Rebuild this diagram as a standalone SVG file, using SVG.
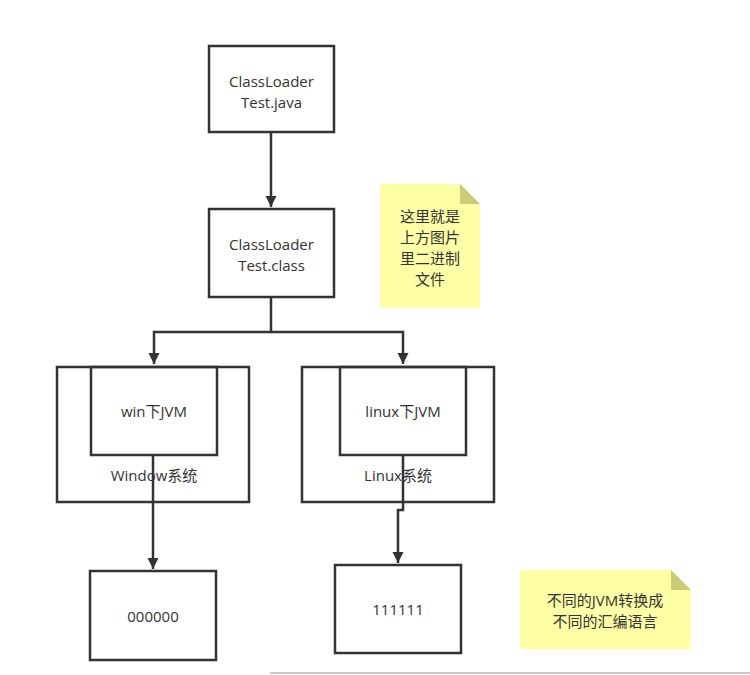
<svg xmlns="http://www.w3.org/2000/svg" width="750" height="675" viewBox="0 0 750 675">
<defs>
<style>
.box{fill:#fff;stroke:#333;stroke-width:2.5}
.frame{fill:none;stroke:#333;stroke-width:2.5}
.edge{fill:none;stroke:#333;stroke-width:2.5}
.t{font-family:"Open Sans","Noto Sans CJK SC",sans-serif;font-size:15px;fill:#333;text-anchor:middle;dominant-baseline:central}
.note{fill:#ffffa6;stroke:none}
.fold{fill:#cccc78}
</style>
<marker id="ah" viewBox="0 0 10 10" refX="10" refY="5" markerWidth="4.5" markerHeight="5.5" orient="auto" markerUnits="strokeWidth">
<path d="M0,0 L10,5 L0,10 Z" fill="#333"/>
</marker>
</defs>
<rect width="750" height="675" fill="#fff"/>
<line x1="270" y1="673" x2="750" y2="673" stroke="#ccc" stroke-width="2"/>
<g id="edges">
<path class="edge" d="M271,132 V207" marker-end="url(#ah)"/>
<path class="edge" d="M271,297 V332 H154 V364" marker-end="url(#ah)"/>
<path class="edge" d="M271,332 H403 V364" marker-end="url(#ah)"/>
<path class="edge" d="M153,455 V569" marker-end="url(#ah)"/>
<path class="edge" d="M403,455 V510 H398 V563" marker-end="url(#ah)"/>
</g>
<g id="java">
<rect class="box" x="209" y="46" width="125" height="86"/>
<text class="t" x="271.5" y="80.5">ClassLoader</text>
<text class="t" x="271.5" y="101.5">Test.java</text>
</g>
<g id="class">
<rect class="box" x="209" y="209" width="125" height="88"/>
<text class="t" x="271.5" y="243.5">ClassLoader</text>
<text class="t" x="271.5" y="264.5">Test.class</text>
</g>
<g id="note1">
<path class="note" d="M380,184 H460 L480,204 V308 H380 Z"/>
<path class="fold" d="M460,184 L480,204 H460 Z"/>
<text class="t" x="430" y="216">这里就是</text>
<text class="t" x="430" y="237">上方图片</text>
<text class="t" x="430" y="258">里二进制</text>
<text class="t" x="430" y="279">文件</text>
</g>
<g id="windows">
<rect class="frame" x="57" y="367" width="192" height="135"/>
<text class="t" x="154" y="475">Window系统</text>
</g>
<g id="winjvm">
<rect class="frame" x="91" y="367" width="126" height="88"/>
<text class="t" x="154" y="411">win下JVM</text>
</g>
<g id="linux">
<rect class="frame" x="302" y="367" width="192" height="135"/>
<text class="t" x="398" y="475">Linux系统</text>
</g>
<g id="linuxjvm">
<rect class="frame" x="340" y="367" width="126" height="88"/>
<text class="t" x="403" y="411">linux下JVM</text>
</g>
<g id="zeros">
<rect class="box" x="90" y="571" width="126" height="89"/>
<text class="t" x="153" y="616">000000</text>
</g>
<g id="ones">
<rect class="box" x="335" y="565" width="126" height="88"/>
<text class="t" x="398" y="609">111111</text>
</g>
<g id="note2">
<path class="note" d="M520,570 H671 L691,590 V649 H520 Z"/>
<path class="fold" d="M671,570 L691,590 H671 Z"/>
<text class="t" x="605" y="600">不同的JVM转换成</text>
<text class="t" x="605" y="621">不同的汇编语言</text>
</g>
</svg>
